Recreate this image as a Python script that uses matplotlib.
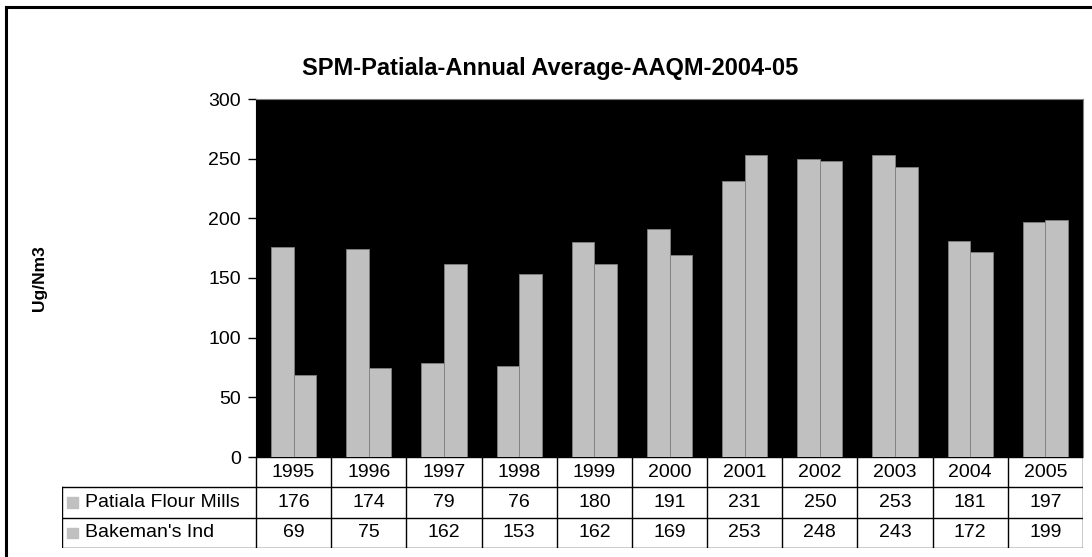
import numpy as np
import matplotlib.pyplot as plt
from matplotlib.lines import Line2D
from matplotlib.patches import Rectangle

plt.rcParams['font.family'] = ['Liberation Sans', 'DejaVu Sans']

years = ["1995", "1996", "1997", "1998", "1999", "2000", "2001", "2002", "2003", "2004", "2005"]
patiala = [176, 174, 79, 76, 180, 191, 231, 250, 253, 181, 197]
bakeman = [69, 75, 162, 153, 162, 169, 253, 248, 243, 172, 199]
series_names = ["Patiala Flour Mills", "Bakeman's Ind"]

W, H = 1092, 557
fig = plt.figure(figsize=(W / 100, H / 100), dpi=100)

# pixel box helper -> figure fraction
def box(x0, y0, x1, y1):
    return [x0 / W, 1 - y1 / H, (x1 - x0) / W, (y1 - y0) / H]

bar_col = "#c0c0c0"
edge_col = "#808080"
fs = 14
x = np.arange(len(years))
bw = 0.30

ax = fig.add_axes(box(256, 99, 1083, 457))
ax.set_facecolor("black")
ax.bar(x - bw / 2, patiala, bw, color=bar_col, edgecolor=edge_col, linewidth=0.6)
ax.bar(x + bw / 2, bakeman, bw, color=bar_col, edgecolor=edge_col, linewidth=0.6)
ax.set_xlim(-0.5, len(years) - 0.5)
ax.set_ylim(0, 300)
ax.set_yticks(range(0, 301, 50))
ax.tick_params(axis="y", labelsize=fs, length=6, width=1, pad=5)
ax.set_xticks([])
for s in ["top", "right"]:
    ax.spines[s].set_color("#808080")
ax.spines["bottom"].set_visible(False)
ax.spines["left"].set_color("black")

fig.text(39 / W, 1 - 278 / H, "Ug/Nm3", rotation=90, ha="center", va="center",
         fontsize=12.5, fontweight="bold")
fig.text(550 / W, 1 - 68 / H, "SPM-Patiala-Annual Average-AAQM-2004-05",
         ha="center", va="center", fontsize=17, fontweight="bold")

# data table below the chart, in category units
lab_w = (256 - 62) / ((1083 - 256) / len(years))
n = len(years)
tb = fig.add_axes(box(62, 457, 1083, 548))
tb.set_xlim(-lab_w, n)
tb.set_ylim(3, 0)
tb.axis("off")
lw = 1.0
tb.add_line(Line2D([0, n], [0, 0], color="black", lw=lw))
for r in [1, 2, 3]:
    tb.add_line(Line2D([-lab_w, n], [r, r], color="black", lw=lw))
tb.add_line(Line2D([-lab_w, -lab_w], [1, 3], color="black", lw=lw))
for c in range(n + 1):
    tb.add_line(Line2D([c, c], [0, 3], color="black", lw=lw))
for i, yr in enumerate(years):
    tb.text(i + 0.5, 0.5, yr, ha="center", va="center", fontsize=fs)
for r, (name, vals) in enumerate(zip(series_names, [patiala, bakeman])):
    yy = r + 1.5
    tb.add_patch(Rectangle((-lab_w + 0.06, yy - 0.17), 0.15, 0.34, color=bar_col))
    tb.text(-lab_w + 0.3, yy, name, ha="left", va="center", fontsize=fs)
    for i, v in enumerate(vals):
        tb.text(i + 0.5, yy, str(v), ha="center", va="center", fontsize=fs)

# outer frame (only top and left visible in reference)
fig.add_artist(Line2D([5.5 / W, 1], [1 - 6.5 / H, 1 - 6.5 / H], color="black", lw=2.2))
fig.add_artist(Line2D([5.5 / W, 5.5 / W], [0, 1 - 6.5 / H], color="black", lw=2.2))

fig.savefig("out.png", dpi=100)
